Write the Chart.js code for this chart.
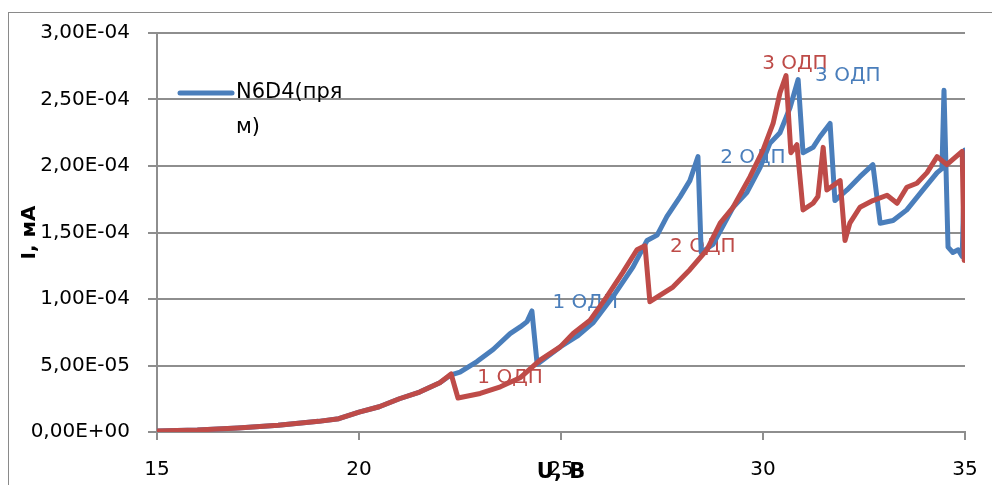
<!DOCTYPE html>
<html>
<head>
<meta charset="utf-8">
<script src="https://cdn.jsdelivr.net/npm/chart.js@4/dist/chart.umd.min.js"></script>
<style>
  body { margin: 0; background: #fff; }
  #wrap { position: relative; width: 992px; height: 485px; overflow: hidden; }
  #frame { position: absolute; left: 8px; top: 12px; width: 1000px; height: 500px; border: 1px solid #8a8a8a; pointer-events: none; }
</style>
</head>
<body>
<div id="wrap">
  <canvas id="myChart" width="992" height="485"></canvas>
  <div id="frame"></div>
</div>
<script>
// blue series - N6D4 (прям)
var blueU = [15, 16, 17, 18, 19, 19.5, 20, 20.5, 21, 21.5,
  22, 22.28, 22.5, 22.92, 23.32, 23.74, 23.99, 24.16, 24.28, 24.41,
  24.98, 25.4, 25.79, 26.29, 26.78, 27.13, 27.38, 27.62, 27.95, 28.19,
  28.39, 28.47, 28.76, 29.26, 29.6, 29.93, 30.17, 30.42, 30.67, 30.87,
  30.99, 31.24, 31.41, 31.66, 31.78, 32.08, 32.4, 32.72, 32.9, 33.22,
  33.56, 33.96, 34.31, 34.43, 34.48, 34.58, 34.7, 34.83, 34.93, 35.0];
var blueI = [0.8e-6, 1.5e-6, 3e-6, 5e-6, 8e-6, 1e-5, 1.5e-5, 1.9e-5, 2.5e-5, 3e-5,
  3.7e-5, 4.3e-5, 4.5e-5, 5.3e-5, 6.2e-5, 7.4e-5, 7.9e-5, 8.3e-5, 9.1e-5, 5.1e-5,
  6.4e-5, 7.2e-5, 8.2e-5, 1.02e-4, 1.24e-4, 1.44e-4, 1.48e-4, 1.62e-4, 1.77e-4, 1.89e-4,
  2.07e-4, 1.35e-4, 1.41e-4, 1.69e-4, 1.80e-4, 1.99e-4, 2.17e-4, 2.25e-4, 2.44e-4, 2.65e-4,
  2.10e-4, 2.14e-4, 2.22e-4, 2.32e-4, 1.74e-4, 1.82e-4, 1.92e-4, 2.01e-4, 1.57e-4, 1.59e-4,
  1.67e-4, 1.82e-4, 1.95e-4, 1.98e-4, 2.57e-4, 1.39e-4, 1.35e-4, 1.37e-4, 1.32e-4, 2.12e-4];

// red series
var redU = [15, 16, 17, 18, 19, 19.5, 20, 20.5, 21, 21.5,
  22, 22.28, 22.45, 23, 23.5, 24, 24.48, 24.98, 25.3, 25.72,
  26.14, 26.53, 26.88, 27.08, 27.2, 27.77, 28.19, 28.61, 28.94, 29.26,
  29.68, 30.0, 30.25, 30.42, 30.57, 30.69, 30.84, 30.99, 31.24, 31.36,
  31.49, 31.58, 31.91, 32.03, 32.15, 32.4, 32.72, 33.07, 33.32, 33.56,
  33.81, 34.06, 34.31, 34.55, 34.93, 34.98];
var redI = [0.8e-6, 1.5e-6, 3e-6, 5e-6, 8e-6, 1e-5, 1.5e-5, 1.9e-5, 2.5e-5, 3e-5,
  3.7e-5, 4.36e-5, 2.56e-5, 2.9e-5, 3.4e-5, 4.1e-5, 5.4e-5, 6.4e-5, 7.4e-5, 8.4e-5,
  1.02e-4, 1.2e-4, 1.37e-4, 1.4e-4, 9.8e-5, 1.09e-4, 1.22e-4, 1.37e-4, 1.57e-4, 1.69e-4,
  1.92e-4, 2.12e-4, 2.32e-4, 2.55e-4, 2.68e-4, 2.1e-4, 2.16e-4, 1.67e-4, 1.72e-4, 1.77e-4,
  2.14e-4, 1.82e-4, 1.89e-4, 1.44e-4, 1.57e-4, 1.69e-4, 1.74e-4, 1.78e-4, 1.72e-4, 1.84e-4,
  1.87e-4, 1.95e-4, 2.07e-4, 2.01e-4, 2.11e-4, 1.29e-4];

var legendLines = ['N6D4(пря', 'м)'];

// labels for the ОДП jumps, placed in data units
var notes = [
  { text: '1 ОДП', u: 25.6, i: 9.7e-5, series: 'blue' },
  { text: '1 ОДП', u: 23.74, i: 4.06e-5, series: 'red' },
  { text: '2 ОДП', u: 29.75, i: 2.06e-4, series: 'blue' },
  { text: '2 ОДП', u: 28.51, i: 1.39e-4, series: 'red' },
  { text: '3 ОДП', u: 30.79, i: 2.77e-4, series: 'red' },
  { text: '3 ОДП', u: 32.1, i: 2.68e-4, series: 'blue' }
];

var BLUE = '#4a7ebb';
var RED = '#be4b48';
var GRID = '#8e8e8e';
var FONT = 'DejaVu Sans';

function pts(xs, ys) {
  return xs.map(function (x, k) { return { x: x, y: ys[k] }; });
}

function sci(v) {
  if (Math.abs(v) < 1e-12) return '0,00E+00';
  var p = v.toExponential(2).split('e');
  var n = parseInt(p[1], 10);
  return p[0].replace('.', ',') + 'E' + (n < 0 ? '-' : '+') + String(Math.abs(n)).padStart(2, '0');
}

var decor = {
  id: 'decor',
  beforeDatasetsDraw: function (chart) {
    var c = chart.ctx, xs = chart.scales.x, ys = chart.scales.y, a = chart.chartArea;
    c.save();
    c.textBaseline = 'middle';
    c.textAlign = 'center';
    c.font = '20px "' + FONT + '"';
    notes.forEach(function (n) {
      c.fillStyle = n.series === 'blue' ? BLUE : RED;
      c.fillText(n.text, xs.getPixelForValue(n.u), ys.getPixelForValue(n.i));
    });
    // legend, only the blue series
    var lx = a.left + 23, ly = a.top + 60;
    c.strokeStyle = BLUE;
    c.lineWidth = 5;
    c.lineCap = 'round';
    c.beginPath();
    c.moveTo(lx, ly);
    c.lineTo(lx + 52, ly);
    c.stroke();
    c.fillStyle = '#000';
    c.textAlign = 'left';
    c.font = '21px "' + FONT + '"';
    legendLines.forEach(function (t, k) {
      c.fillText(t, lx + 56, ly + k * 35);
    });
    c.restore();
  }
};

var ctx = document.getElementById('myChart');

var myChart = new Chart(ctx, {
  type: 'line',
  data: {
    datasets: [{
      label: 'N6D4(прям)',
      data: pts(blueU, blueI),
      borderColor: BLUE,
      borderWidth: 5,
      pointRadius: 0,
      order: 2
    }, {
      label: 'red',
      data: pts(redU, redI),
      borderColor: RED,
      borderWidth: 5,
      pointRadius: 0,
      order: 1
    }]
  },
  options: {
    responsive: false,
    animation: false,
    elements: { line: { tension: 0, borderJoinStyle: 'round', borderCapStyle: 'round' } },
    layout: { padding: { top: 33, right: 27, left: 0, bottom: 0 } },
    plugins: { legend: { display: false }, tooltip: { enabled: false } },
    scales: {
      x: {
        type: 'linear',
        min: 15, max: 35,
        afterFit: function (s) { s.height = 53; s.paddingRight = 13; s.paddingLeft = 13; },
        ticks: { stepSize: 5, color: '#000', font: { family: FONT, size: 20 }, padding: 18, maxRotation: 0 },
        grid: { drawOnChartArea: false, drawTicks: true, tickLength: 8, color: GRID, lineWidth: 2 },
        border: { color: GRID, width: 2 },
        title: { display: true, text: 'U, В', color: '#000', font: { family: FONT, size: 21, weight: 'bold' }, padding: { top: 0, bottom: 0 } }
      },
      y: {
        min: 0, max: 3e-4,
        afterFit: function (s) { s.width = 157; },
        ticks: { stepSize: 5e-5, color: '#000', font: { family: FONT, size: 20 }, padding: 18, callback: sci },
        grid: { color: GRID, lineWidth: 2, tickLength: 9 },
        border: { color: GRID, width: 2 },
        title: { display: true, text: 'I, мА', color: '#000', font: { family: FONT, size: 20, weight: 'bold' }, padding: { top: 18, bottom: 0 } }
      }
    }
  },
  plugins: [decor]
});
</script>
</body>
</html>
